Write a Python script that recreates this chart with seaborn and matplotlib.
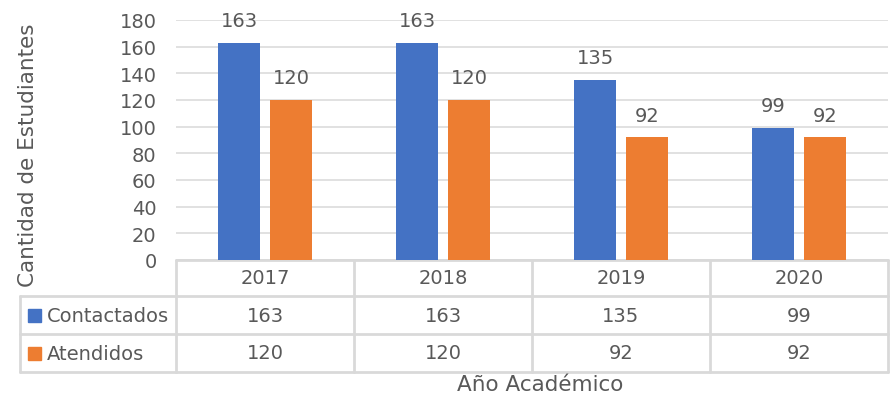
import pandas as pd
import matplotlib.pyplot as plt
import matplotlib.transforms as mtransforms
import seaborn as sns

years = ["2017", "2018", "2019", "2020"]
contactados = [163, 163, 135, 99]
atendidos = [120, 120, 92, 92]
series_names = ["Contactados", "Atendidos"]
colors = ["#4472C4", "#ED7D31"]
y_ticks = list(range(0, 181, 20))

TEXT = "#595959"
GRID = "#d9d9d9"
FONT = "DejaVu Sans"
FS = 14

df = pd.DataFrame({
    "Año": years * 2,
    "Serie": [series_names[0]] * len(years) + [series_names[1]] * len(years),
    "Valor": contactados + atendidos,
})

sns.set_theme(style="white")
plt.rcParams["font.family"] = [FONT]

W, H = 890, 406
fig = plt.figure(figsize=(W / 100, H / 100), dpi=100)
left_px, right_px, top_px, bottom_px = 176, 888, 21, 261
ax = fig.add_axes([left_px / W, 1 - bottom_px / H, (right_px - left_px) / W, (bottom_px - top_px) / H])

sns.barplot(data=df, x="Año", y="Valor", hue="Serie", palette=colors, width=0.584, gap=0.21,
            ax=ax, legend=False, saturation=1, linewidth=0, zorder=3)

ax.set_ylim(0, 180)
ax.set_xlim(-0.5, len(years) - 0.5)
ax.set_yticks(y_ticks)
ax.yaxis.grid(True, color=GRID, linewidth=1.1, zorder=0)
ax.set_axisbelow(True)
for s in ax.spines.values():
    s.set_visible(False)
ax.tick_params(axis="y", length=0, pad=14, labelsize=FS, labelcolor=TEXT)
ax.set_xticks([])
ax.set_xlabel("")
ax.set_ylabel("")

for p in ax.patches:
    h = p.get_height()
    if h <= 0:
        continue
    ax.annotate(f"{h:.0f}", (p.get_x() + p.get_width() / 2, h), xytext=(0, 9),
                textcoords="offset points", ha="center", va="bottom",
                fontsize=FS, color=TEXT)

# data table below the plot
trans = mtransforms.blended_transform_factory(ax.transData, ax.transAxes)
ph = bottom_px - top_px
rows_px = [261, 297, 335, 373]
rows = [-(r - bottom_px) / ph for r in rows_px]
lw = 2
x_left_fig = 20 / W

for r in rows:
    ax.plot([-0.5, len(years) - 0.5], [r, r], transform=trans, color=GRID, lw=lw, clip_on=False, zorder=1)
for k in range(len(years) + 1):
    ax.plot([k - 0.5, k - 0.5], [rows[0], rows[-1]], transform=trans, color=GRID, lw=lw, clip_on=False)
for r_px in rows_px[1:]:
    y = 1 - r_px / H
    fig.add_artist(plt.Line2D([x_left_fig, left_px / W], [y, y], color=GRID, lw=lw))
fig.add_artist(plt.Line2D([x_left_fig, x_left_fig], [1 - rows_px[1] / H, 1 - rows_px[-1] / H], color=GRID, lw=lw))

for k, yr in enumerate(years):
    ax.text(k, (rows[0] + rows[1]) / 2, yr, transform=trans, ha="center", va="center",
            fontsize=FS, color=TEXT)
for j, vals in enumerate([contactados, atendidos]):
    yc = (rows[j + 1] + rows[j + 2]) / 2
    for k, v in enumerate(vals):
        ax.text(k, yc, str(v), transform=trans, ha="center", va="center", fontsize=FS, color=TEXT)
    yc_fig = 1 - (rows_px[j + 1] + rows_px[j + 2]) / 2 / H
    fig.add_artist(plt.Rectangle((28 / W, yc_fig - 6.5 / H), 13 / W, 13 / H, color=colors[j]))
    fig.text(47 / W, yc_fig, series_names[j], ha="left", va="center", fontsize=FS, color=TEXT)

fig.text(540 / W, 1 - 385 / H, "Año Académico", ha="center", va="center", fontsize=15.5, color=TEXT)
fig.text(28 / W, 1 - 155 / H, "Cantidad de Estudiantes", ha="center", va="center",
         rotation=90, fontsize=15.5, color=TEXT)

plt.savefig("out.png", dpi=100)
